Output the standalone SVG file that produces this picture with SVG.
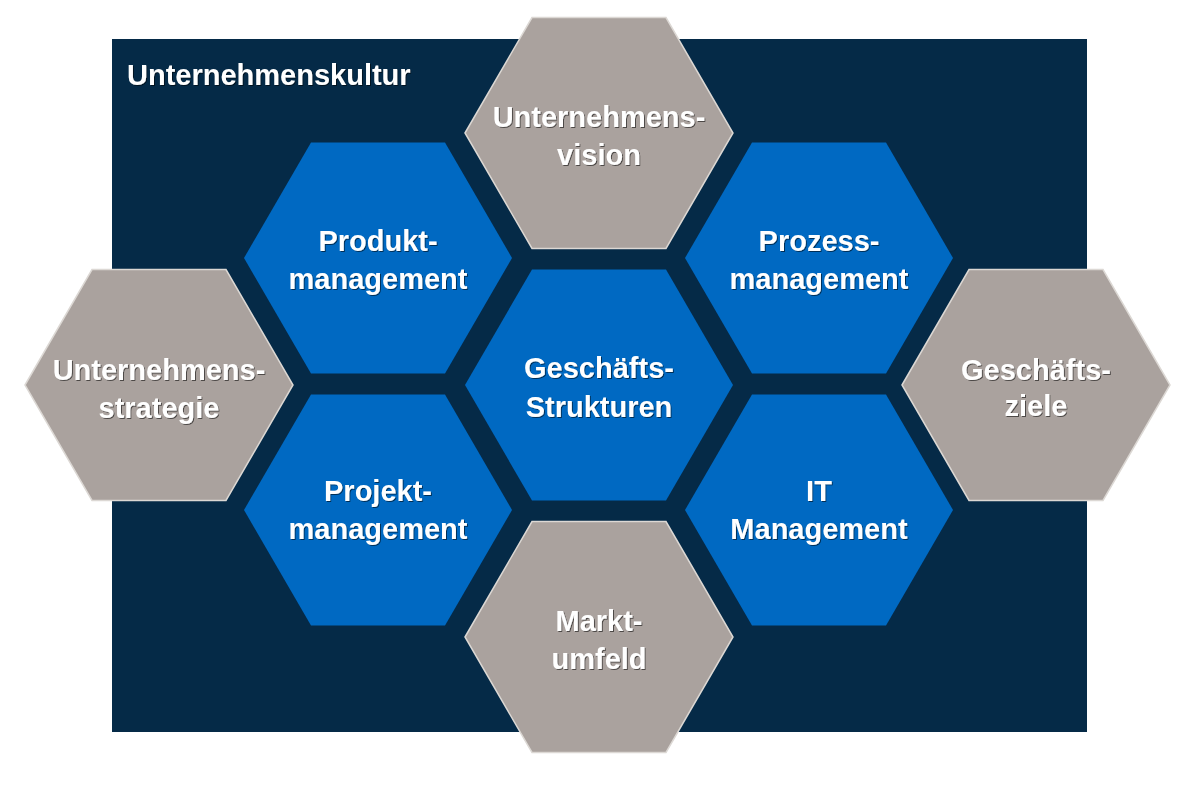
<svg xmlns="http://www.w3.org/2000/svg" width="1200" height="800" viewBox="0 0 1200 800">
<style>
.bg{fill:#052a47}
.blue{fill:#0069c2}
.grey{fill:#aaa29e;stroke:#dcd8d4;stroke-width:1.5}
.lbl{font-family:"Liberation Sans",Arial,sans-serif;font-weight:bold;font-size:29px;fill:#ffffff;text-anchor:middle;filter:url(#sh)}
.title{font-family:"Liberation Sans",Arial,sans-serif;font-weight:bold;font-size:29px;fill:#ffffff;filter:url(#sh)}
</style>
<defs>
<polygon id="hex" points="-134,0 -67,-115.5 67,-115.5 134,0 67,115.5 -67,115.5"/>
<filter id="sh" x="-10%" y="-20%" width="120%" height="150%">
<feDropShadow dx="1" dy="1" stdDeviation="0.6" flood-color="#000000" flood-opacity="0.55"/>
</filter>
</defs>
<rect class="bg" x="112" y="39" width="975" height="693"/>
<g id="connectors"></g>
<text class="title" x="127" y="85">Unternehmenskultur</text>
<g id="vision"><use href="#hex" class="grey" transform="translate(599,133)"/><text class="lbl" x="599" y="127">Unternehmens-</text><text class="lbl" x="599" y="165">vision</text></g>
<g id="produkt"><use href="#hex" class="blue" transform="translate(378,258)"/><text class="lbl" x="378" y="251">Produkt-</text><text class="lbl" x="378" y="289">management</text></g>
<g id="prozess"><use href="#hex" class="blue" transform="translate(819,258)"/><text class="lbl" x="819" y="251">Prozess-</text><text class="lbl" x="819" y="289">management</text></g>
<g id="strukturen"><use href="#hex" class="blue" transform="translate(599,385)"/><text class="lbl" x="599" y="378">Geschäfts-</text><text class="lbl" x="599" y="417">Strukturen</text></g>
<g id="strategie"><use href="#hex" class="grey" transform="translate(159,385)"/><text class="lbl" x="159" y="380">Unternehmens-</text><text class="lbl" x="159" y="418">strategie</text></g>
<g id="ziele"><use href="#hex" class="grey" transform="translate(1036,385)"/><text class="lbl" x="1036" y="380">Geschäfts-</text><text class="lbl" x="1036" y="416">ziele</text></g>
<g id="projekt"><use href="#hex" class="blue" transform="translate(378,510)"/><text class="lbl" x="378" y="501">Projekt-</text><text class="lbl" x="378" y="539">management</text></g>
<g id="it"><use href="#hex" class="blue" transform="translate(819,510)"/><text class="lbl" x="819" y="501">IT</text><text class="lbl" x="819" y="539">Management</text></g>
<g id="markt"><use href="#hex" class="grey" transform="translate(599,637)"/><text class="lbl" x="599" y="631">Markt-</text><text class="lbl" x="599" y="669">umfeld</text></g>
</svg>
